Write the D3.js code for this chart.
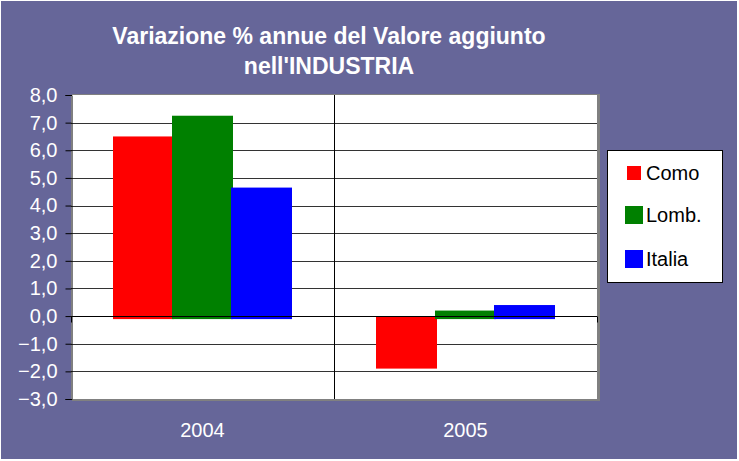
<!DOCTYPE html>
<html>
<meta charset="utf-8">
<head>
    <title>Variazione % annue del Valore aggiunto nell'INDUSTRIA</title>
    <script src="https://d3js.org/d3.v7.min.js" charset="utf-8"></script>
    <style>
    body { margin: 0; background: #fff; }
    text { font-family: "Liberation Sans", Arial, sans-serif; }
    </style>
</head>
<body>
    <script>

    // Data
    var years = ["2004", "2005"];
    var series = ["Como", "Lomb.", "Italia"];
    var colors = ["#ff0000", "#008000", "#0000ff"];
    var como = [6.5, -1.9];
    var lomb = [7.25, 0.2];
    var italia = [4.65, 0.4];
    var yTicks = [-3, -2, -1, 0, 1, 2, 3, 4, 5, 6, 7, 8];
    var titleLines = ["Variazione % annue del Valore aggiunto", "nell'INDUSTRIA"];

    var values = [como, lomb, italia];

    // Dimensions
    var width = 739;
    var height = 461;
    var plot = {left: 71, right: 597, top: 95, bottom: 399};

    var svg = d3.select("body")
        .append("svg")
        .attr("width", width)
        .attr("height", height);

    // Purple chart background
    svg.append("rect")
        .attr("x", 1).attr("y", 1)
        .attr("width", 736).attr("height", 458)
        .attr("fill", "#666699");

    // Title
    svg.append("g").selectAll("text")
        .data(titleLines)
        .enter()
        .append("text")
        .attr("x", 329)
        .attr("y", function(d, i) { return 44 + i * 30; })
        .attr("text-anchor", "middle")
        .attr("fill", "#fff")
        .attr("font-size", "23px")
        .attr("font-weight", "bold")
        .text(function(d) { return d; });

    // Scales
    var x = d3.scaleBand()
        .domain(years)
        .range([plot.left, plot.right]);

    var xs = d3.scaleBand()
        .domain(series)
        .range([43, x.bandwidth() - 43]);

    var y = d3.scaleLinear()
        .domain([-3, 8])
        .range([plot.bottom, plot.top]);

    // Plot area with gray shadow frame
    svg.append("rect")
        .attr("x", plot.left + 1).attr("y", plot.top - 1)
        .attr("width", plot.right - plot.left + 2)
        .attr("height", plot.bottom - plot.top + 3)
        .attr("fill", "#808080");
    svg.append("rect")
        .attr("x", plot.left).attr("y", plot.top)
        .attr("width", plot.right - plot.left)
        .attr("height", plot.bottom - plot.top)
        .attr("fill", "#fff");

    // Horizontal gridlines
    svg.append("g").selectAll("line")
        .data(yTicks.filter(function(d) { return d > -3 && d < 8; }))
        .enter()
        .append("line")
        .attr("x1", plot.left).attr("x2", plot.right)
        .attr("y1", function(d) { return Math.round(y(d)) + 0.5; })
        .attr("y2", function(d) { return Math.round(y(d)) + 0.5; })
        .attr("stroke", "#333")
        .attr("stroke-width", 1);

    // Vertical divider between categories
    svg.append("line")
        .attr("x1", Math.round(x("2005")) + 0.5)
        .attr("x2", Math.round(x("2005")) + 0.5)
        .attr("y1", plot.top).attr("y2", plot.bottom)
        .attr("stroke", "#000");

    // Bars (they sink a couple of pixels below zero, like the original's 3D look)
    series.forEach(function(s, i) {
        svg.append("g").selectAll("rect")
            .data(years)
            .enter()
            .append("rect")
            .attr("x", function(d) { return x(d) + xs(s) - 1; })
            .attr("width", xs.bandwidth() + 2)
            .attr("y", function(d, j) { return y(Math.max(0, values[i][j])); })
            .attr("height", function(d, j) {
                var v = values[i][j];
                return Math.abs(y(v) - y(0)) + (v > 0 ? 3 : 0);
            })
            .attr("fill", colors[i]);
    });

    // Zero line (category axis)
    var y0 = Math.round(y(0)) + 0.5;
    svg.append("line")
        .attr("x1", plot.left).attr("x2", plot.right)
        .attr("y1", y0).attr("y2", y0)
        .attr("stroke", "#000");
    svg.append("g").selectAll("line")
        .data([plot.left, x("2005"), plot.right])
        .enter()
        .append("line")
        .attr("x1", function(d) { return Math.round(d) + 0.5; })
        .attr("x2", function(d) { return Math.round(d) + 0.5; })
        .attr("y1", y0).attr("y2", y0 + 6)
        .attr("stroke", "#000");

    // Value axis
    var yAxis = svg.append("g")
        .attr("transform", "translate(" + (plot.left + 0.5) + ",0)")
        .call(d3.axisLeft(y)
            .tickValues(yTicks)
            .tickSize(6)
            .tickPadding(8)
            .tickFormat(function(d) { return d3.format(".1f")(d).replace(".", ","); }));
    yAxis.select(".domain").attr("stroke", "#000");
    yAxis.selectAll(".tick line").attr("stroke", "#000");
    yAxis.selectAll("text")
        .attr("fill", "#fff")
        .attr("font-size", "20px")
        .style("font-family", "'Liberation Sans', Arial, sans-serif");

    // Category labels
    svg.append("g").selectAll("text")
        .data(years)
        .enter()
        .append("text")
        .attr("x", function(d) { return x(d) + x.bandwidth() / 2; })
        .attr("y", 437)
        .attr("text-anchor", "middle")
        .attr("fill", "#fff")
        .attr("font-size", "20px")
        .text(function(d) { return d; });

    // Legend
    var legend = svg.append("g");
    legend.append("rect")
        .attr("x", 607.5).attr("y", 150.5)
        .attr("width", 115).attr("height", 132)
        .attr("fill", "#fff")
        .attr("stroke", "#000");

    var items = legend.selectAll("g")
        .data(series)
        .enter()
        .append("g")
        .attr("transform", function(d, i) { return "translate(0," + [173, 215, 259][i] + ")"; });
    items.append("rect")
        .attr("x", function(d, i) { return i === 0 ? 627 : 625; })
        .attr("y", function(d, i) { return i === 0 ? -7 : -9; })
        .attr("width", function(d, i) { return i === 0 ? 14 : 18; })
        .attr("height", function(d, i) { return i === 0 ? 14 : 18; })
        .attr("fill", function(d, i) { return colors[i]; });
    items.append("text")
        .attr("x", 646)
        .attr("y", 7)
        .attr("fill", "#000")
        .attr("font-size", "20px")
        .text(function(d) { return d; });

    </script>
</body>
</html>
